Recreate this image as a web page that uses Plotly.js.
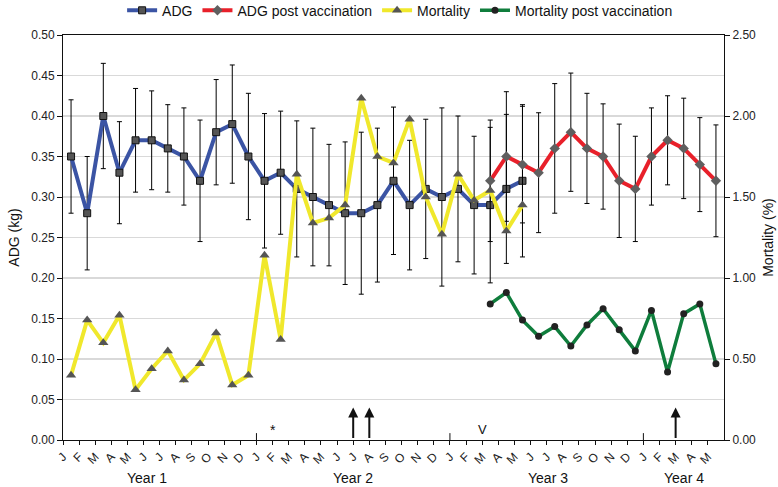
<!DOCTYPE html>
<html><head><meta charset="utf-8">
<script src="https://cdn.plot.ly/plotly-3.0.1.min.js"></script>
<style>html,body{margin:0;padding:0;background:#fff}#chart{width:778px;height:487px}</style>
</head><body><div id="chart"></div>
<script>
// Month tick labels (41 months: Year 1-3 full, Year 4 Jan-May)
const monthLabels = ['J','F','M','A','M','J','J','A','S','O','N','D',
                     'J','F','M','A','M','J','J','A','S','O','N','D',
                     'J','F','M','A','M','J','J','A','S','O','N','D',
                     'J','F','M','A','M'];
const yearLabels = ['Year 1','Year 2','Year 3','Year 4'];
const yearLabelPos = [5.2, 18, 30.1, 38.5];
const yearDividers = [12, 24, 36];

// ADG (kg), months 0..28
const adg = [0.35,0.28,0.40,0.33,0.37,0.37,0.36,0.35,0.32,0.38,0.39,0.35,
             0.32,0.33,0.31,0.30,0.29,0.28,0.28,0.29,0.32,0.29,0.31,0.30,
             0.31,0.29,0.29,0.31,0.32];
const adgErr = [0.070,0.070,0.065,0.063,0.064,0.061,0.054,0.060,0.075,0.065,0.073,0.078,
                0.083,0.076,0.084,0.085,0.075,0.088,0.100,0.095,0.091,0.080,0.086,0.110,
                0.090,0.085,0.096,0.092,0.094];

// ADG post vaccination, months 26..40
const postStart = 26;
const adgPost = [0.32,0.35,0.34,0.33,0.36,0.38,0.36,0.35,0.32,0.31,0.35,0.37,0.36,0.34,0.32];
const adgPostErr = [0.075,0.080,0.072,0.074,0.080,0.073,0.068,0.065,0.070,0.065,0.060,0.055,0.062,0.058,0.069];

// Mortality (%), months 0..28
const mortality = [0.40,0.74,0.60,0.77,0.31,0.44,0.55,0.37,0.47,0.66,0.34,0.40,
                   1.14,0.62,1.64,1.34,1.37,1.45,2.11,1.75,1.71,1.98,1.50,1.27,
                   1.64,1.48,1.54,1.29,1.45];
// Mortality post vaccination, months 26..40
const mortalityPost = [0.84,0.91,0.74,0.64,0.70,0.58,0.71,0.81,0.68,0.55,0.80,0.42,0.78,0.84,0.47];

// Event markers
const arrowMonths = [18, 19, 38];
const starMonth = 13;
const vMonth = 26;

const xPre = adg.map((_, i) => i + 0.5);
const xPost = adgPost.map((_, i) => i + postStart + 0.5);

const FONT = 'Liberation Sans, Arial, sans-serif';

const traces = [
  {x: xPre, y: adg, name: 'ADG', type: 'scatter', mode: 'lines+markers',
   line: {color: '#3b54a4', width: 4},
   marker: {symbol: 'square', size: 7, color: '#555555', line: {color: '#111', width: 1}},
   error_y: {type: 'data', array: adgErr, visible: true, color: '#000', thickness: 1, width: 2.5}},
  {x: xPost, y: adgPost, name: 'ADG post vaccination', type: 'scatter', mode: 'lines+markers',
   line: {color: '#e8202a', width: 4},
   marker: {symbol: 'diamond', size: 8, color: '#5f5f5f'},
   error_y: {type: 'data', array: adgPostErr, visible: true, color: '#000', thickness: 1, width: 2.5}},
  {x: xPre, y: mortality, name: 'Mortality', type: 'scatter', mode: 'lines+markers', yaxis: 'y2',
   line: {color: '#f0e82c', width: 4},
   marker: {symbol: 'triangle-up', size: 9, color: '#555555'}},
  {x: xPost, y: mortalityPost, name: 'Mortality post vaccination', type: 'scatter', mode: 'lines+markers', yaxis: 'y2',
   line: {color: '#0f7d3c', width: 3.5},
   marker: {symbol: 'circle', size: 7, color: '#222222'}}
];

const annotations = [];
yearLabels.forEach((t, i) => annotations.push({
  text: t, x: yearLabelPos[i], xref: 'x', y: 0, yref: 'paper', yanchor: 'top', yshift: -28,
  showarrow: false, font: {family: FONT, size: 14, color: '#111'}
}));
arrowMonths.forEach(m => annotations.push({
  text: '', x: m, xref: 'x', y: 0.04, yref: 'y', ax: 0, ay: 32, axref: 'pixel', ayref: 'pixel',
  showarrow: true, arrowhead: 2, arrowsize: 1, arrowwidth: 2, arrowcolor: '#111'
}));
annotations.push({text: '*', x: starMonth, xref: 'x', y: 0, yref: 'y', yanchor: 'bottom', showarrow: false,
  font: {family: FONT, size: 14, color: '#111'}});
annotations.push({text: 'V', x: vMonth, xref: 'x', y: 0, yref: 'y', yanchor: 'bottom', yshift: 1, showarrow: false,
  font: {family: FONT, size: 13, color: '#111'}});

const shapes = yearDividers.map(m => ({
  type: 'line', xref: 'x', yref: 'paper', x0: m, x1: m, y0: 0, y1: 0.017,
  line: {color: '#111', width: 1}
}));

const layout = {
  width: 778, height: 487,
  margin: {l: 63, r: 54, t: 35, b: 47, autoexpand: false},
  paper_bgcolor: '#fff', plot_bgcolor: '#fff',
  font: {family: FONT, size: 12, color: '#222'},
  showlegend: true,
  legend: {orientation: 'h', x: 0.51, xanchor: 'center', y: 1.06, yanchor: 'middle',
           font: {family: FONT, size: 14, color: '#111'}, itemwidth: 30, tracegroupgap: 0},
  xaxis: {range: [0, 41], tickmode: 'array', tickvals: monthLabels.map((_, i) => i), ticktext: monthLabels,
          tickangle: -45, ticks: 'outside', ticklen: 4, tickcolor: '#111',
          showline: true, linecolor: '#111', linewidth: 1, mirror: true,
          showgrid: false, zeroline: false, tickfont: {family: FONT, size: 12, color: '#222'}},
  yaxis: {range: [0, 0.5], dtick: 0.05, tickformat: '.2f', ticks: 'outside', ticklen: 5, tickcolor: '#111',
          showline: true, linecolor: '#111', linewidth: 1,
          showgrid: true, gridcolor: '#d9d9d9', gridwidth: 1.5, zeroline: false,
          title: {text: 'ADG (kg)', font: {family: FONT, size: 14, color: '#111'}, standoff: 8},
          tickfont: {family: FONT, size: 12, color: '#222'}},
  yaxis2: {range: [0, 2.5], dtick: 0.5, tickformat: '.2f', overlaying: 'y', side: 'right',
           ticks: 'outside', ticklen: 5, tickcolor: '#111',
           showline: true, linecolor: '#111', linewidth: 1, showgrid: false, zeroline: false,
           title: {text: 'Mortality (%)', font: {family: FONT, size: 14, color: '#111'}, standoff: 8},
           tickfont: {family: FONT, size: 12, color: '#222'}},
  annotations: annotations,
  shapes: shapes
};

Plotly.newPlot('chart', traces, layout, {displayModeBar: false, staticPlot: true});
</script>
</body></html>
